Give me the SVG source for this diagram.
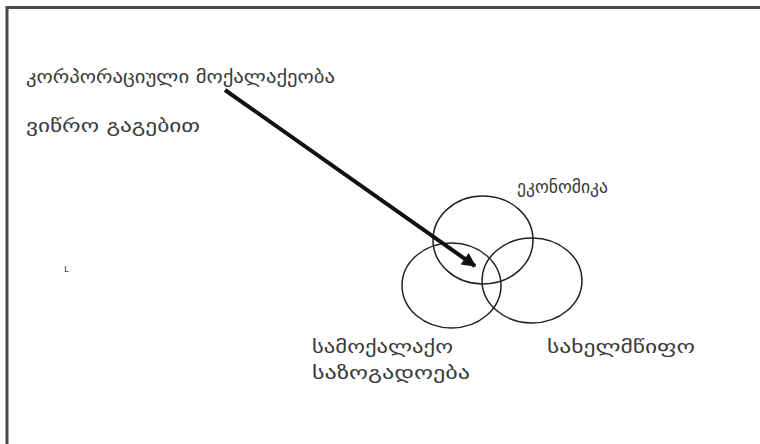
<svg xmlns="http://www.w3.org/2000/svg" width="760" height="444" viewBox="0 0 760 444">
<style>
.t{font-family:"DejaVu Sans","Noto Sans",sans-serif;font-size:18px;fill:#3a3a3a}
.c{fill:none;stroke:#222;stroke-width:1.5}
</style>
<defs>
<marker id="ah" viewBox="0 0 10 10" refX="9" refY="5" markerWidth="4" markerHeight="3.5" orient="auto" markerUnits="strokeWidth">
<path d="M0,0 L10,5 L0,10 Z" fill="#111"/>
</marker>
</defs>
<rect width="760" height="444" fill="#fff"/>
<path d="M7,444 V7.5 H760" fill="none" stroke="#4a4a4a" stroke-width="3"/>
<g id="title">
<text class="t" x="26" y="83" textLength="309" lengthAdjust="spacingAndGlyphs">კორპორაციული მოქალაქეობა</text>
<text class="t" x="26" y="132" textLength="174" lengthAdjust="spacingAndGlyphs">ვიწრო გაგებით</text>
</g>
<g id="mark"><text class="t" x="64" y="272" style="font-size:10px">ւ</text></g>
<g id="economy">
<ellipse class="c" cx="483" cy="240" rx="50" ry="44"/>
<text class="t" x="517" y="193" textLength="91" lengthAdjust="spacingAndGlyphs">ეკონომიკა</text>
</g>
<g id="civil-society">
<ellipse class="c" cx="451.5" cy="285.5" rx="49.5" ry="42.5"/>
<text class="t" x="312" y="353" textLength="141" lengthAdjust="spacingAndGlyphs">სამოქალაქო</text>
<text class="t" x="312" y="379" textLength="158" lengthAdjust="spacingAndGlyphs">საზოგადოება</text>
</g>
<g id="state">
<ellipse class="c" cx="532" cy="280.5" rx="50" ry="42.5"/>
<text class="t" x="547" y="353" textLength="148" lengthAdjust="spacingAndGlyphs">სახელმწიფო</text>
</g>
<g id="connectors">
<line x1="225" y1="90" x2="475" y2="266" stroke="#111" stroke-width="4" marker-end="url(#ah)"/>
</g>
</svg>
